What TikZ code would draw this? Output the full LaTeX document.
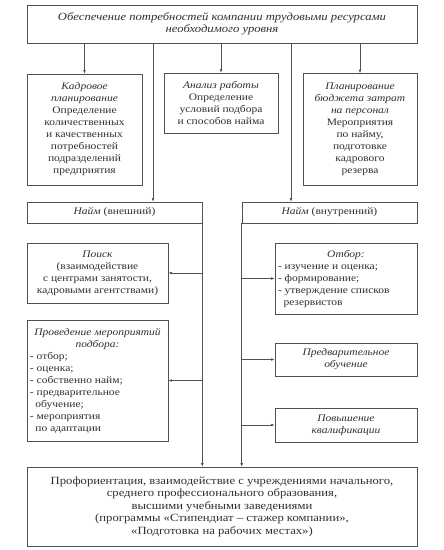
\documentclass[tikz,border=0pt]{standalone}
\usepackage{fontspec}
\setmainfont{Liberation Serif}[FakeStretch=1.15]
\usetikzlibrary{arrows.meta}
\definecolor{linec}{HTML}{505050}
\definecolor{txtc}{HTML}{303030}
\begin{document}
\begin{tikzpicture}[x=1pt,y=-1pt,
  box/.style={draw=linec, line width=0.6pt, inner sep=2pt, align=center, text=txtc,
    font=\fontsize{10}{12}\selectfont},
  listbox/.style={box, align=flush left, inner xsep=3pt},
  arr/.style={draw=linec, line width=0.6pt, -{Latex[length=3.5pt,width=2.6pt]}}]
\useasboundingbox (0,0) rectangle (444,550);
\fill[white] (0,0) rectangle (444,550);

\node[box, minimum width=390, minimum height=38, font=\fontsize{11}{12}\selectfont] (top) at (222,24)
  {\itshape Обеспечение потребностей компании трудовыми ресурсами\\\itshape необходимого уровня};

\node[box, minimum width=115, minimum height=111] (b1) at (84.5,129.5)
  {\textit{Кадровое}\\\textit{планирование}\\Определение\\количественных\\и качественных\\потребностей\\подразделений\\предприятия};
\node[box, minimum width=114, minimum height=60] (b2) at (221,103)
  {\textit{Анализ работы}\\Определение\\условий подбора\\и способов найма};
\node[box, minimum width=114, minimum height=112] (b3) at (360,129.5)
  {\textit{Планирование}\\\textit{бюджета затрат}\\\textit{на персонал}\\Мероприятия\\по найму,\\подготовке\\кадрового\\резерва};

\node[box, minimum width=175, minimum height=21] (naimL) at (114.5,212.5) {\textit{Найм} (внешний)};
\node[box, minimum width=175, minimum height=21] (naimR) at (329.5,212.5) {\textit{Найм} (внутренний)};

\node[box, minimum width=141, minimum height=60] (poisk) at (97.5,273)
  {\textit{Поиск}\\(взаимодействие\\с центрами занятости,\\кадровыми агентствами)};
\node[box, minimum width=141, minimum height=121, text width=135pt, align=none, inner xsep=3pt] (prov) at (97.5,380.5)
  {{\centering\itshape Проведение мероприятий\\подбора:\par}\raggedright
   - отбор;\\- оценка;\\- собственно найм;\\- предварительное\\\hspace*{0.55em}обучение;\\- мероприятия\\\hspace*{0.55em}по адаптации\par};

\node[box, minimum width=142, minimum height=71, text width=136pt, align=none, inner xsep=3pt] (otbor) at (346,278.5)
  {{\centering\itshape Отбор:\par}\raggedright
   - изучение и оценка;\\- формирование;\\- утверждение списков\\\hspace*{0.55em}резервистов\par};
\node[box, minimum width=142, minimum height=33] (predv) at (346,359.5)
  {\textit{Предварительное}\\\textit{обучение}};
\node[box, minimum width=142, minimum height=34] (povysh) at (346,425)
  {\textit{Повышение}\\\textit{квалификации}};

\node[box, minimum width=390, minimum height=79, font=\fontsize{11}{12.5}\selectfont] (bottom) at (222,506.5)
  {Профориентация, взаимодействие с учреждениями начального,\\среднего профессионального образования,\\высшими учебными заведениями\\(программы «Стипендиат – стажер компании»,\\«Подготовка на рабочих местах»)};

\coordinate (cL) at (153,0);
\coordinate (cR) at (291,0);

\draw[arr] (top.south -| b1.north) -- (b1.north);
\draw[arr] (top.south -| b2.north) -- (b2.north);
\draw[arr] (top.south -| b3.north) -- (b3.north);
\draw[arr] (top.south -| cL) -- (naimL.north -| cL);
\draw[arr] (top.south -| cR) -- (naimR.north -| cR);

\draw[arr] (naimL.south east) -- (bottom.north -| naimL.south east);
\draw[arr] (naimR.south west) -- (bottom.north -| naimR.south west);

\draw[arr] (naimL.south east |- poisk.east) -- (poisk.east);
\draw[arr] (naimL.south east |- prov.east) -- (prov.east);
\draw[arr] (naimR.south west |- otbor.west) -- (otbor.west);
\draw[arr] (naimR.south west |- predv.west) -- (predv.west);
\draw[arr] (naimR.south west |- povysh.west) -- (povysh.west);
\end{tikzpicture}
\end{document}
